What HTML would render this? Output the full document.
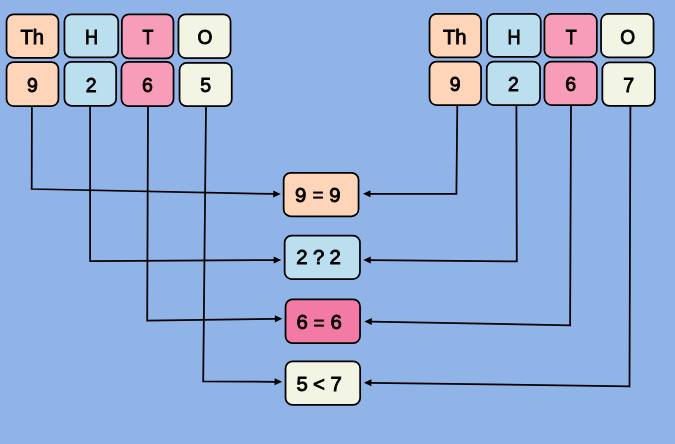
<!DOCTYPE html>
<html><head><meta charset="utf-8"><title>Place value comparison</title>
<style>
html,body{margin:0;padding:0;background:#90b3e8;}
body{width:675px;height:444px;overflow:hidden;}
svg{display:block;will-change:transform;}
text{font-family:"Liberation Sans",sans-serif;font-size:21.4px;font-weight:700;fill:#000;stroke:none;stroke-width:0px;stroke-linejoin:round;text-anchor:middle;}
.dg{font-size:21.0px;font-weight:400;stroke:#000;stroke-width:0.9px;stroke-linejoin:miter;}
.lt{font-size:20.8px;font-weight:400;stroke:#000;stroke-width:0.9px;stroke-linejoin:miter;}
.op{font-size:20.4px;font-weight:400;stroke:#000;stroke-width:0.45px;}
.ln{fill:none;stroke:#000;stroke-width:1.75;stroke-linejoin:miter;}
.bx{stroke:#000;stroke-width:1.75;}
</style></head><body>
<svg width="675" height="444" viewBox="0 0 675 444">
<rect x="0" y="0" width="675" height="444" fill="#90b3e8"/>
<polyline class="ln" points="31.9,106 31.7,189.0 274.20,193.97"/>
<polygon fill="#000" points="280.70,194.10 273.13,197.45 273.27,190.45"/>
<polyline class="ln" points="90.1,106 90.1,261.1 274.70,260.04"/>
<polygon fill="#000" points="281.20,260.00 273.72,263.54 273.68,256.54"/>
<polyline class="ln" points="148,106 147.2,320.5 275.90,318.79"/>
<polygon fill="#000" points="282.40,318.70 274.95,322.30 274.85,315.30"/>
<polyline class="ln" points="206,106.5 203.2,381.4 275.60,381.77"/>
<polygon fill="#000" points="282.10,381.80 274.58,385.26 274.62,378.26"/>
<polyline class="ln" points="457.3,105 456.4,193.8 369.50,193.80"/>
<polygon fill="#000" points="363.00,193.80 370.50,190.30 370.50,197.30"/>
<polyline class="ln" points="516.4,105 516.8,261.4 369.80,260.06"/>
<polygon fill="#000" points="363.30,260.00 370.83,256.57 370.77,263.57"/>
<polyline class="ln" points="571,105 570.1,325.4 370.80,321.53"/>
<polygon fill="#000" points="364.30,321.40 371.87,318.05 371.73,325.05"/>
<polyline class="ln" points="630.4,106 629.5,386.3 370.40,382.79"/>
<polygon fill="#000" points="363.90,382.70 371.45,379.30 371.35,386.30"/>
<rect class="bx" x="6.55" y="14.25" width="51.90" height="43.50" rx="7" ry="7" fill="#fed5b8"/>
<text class="lt" transform="translate(32.30,43.90) scale(0.97,1)" x="0" y="0">Th</text>
<rect class="bx" x="64.45" y="14.25" width="53.80" height="43.20" rx="7" ry="7" fill="#bbdfef"/>
<text class="lt" transform="translate(91.60,43.90) scale(0.87,1)" x="0" y="0">H</text>
<rect class="bx" x="121.85" y="14.25" width="51.60" height="44.10" rx="7" ry="7" fill="#f79cb9"/>
<text class="lt" transform="translate(147.90,43.90) scale(0.86,1)" x="0" y="0">T</text>
<rect class="bx" x="178.45" y="14.25" width="52.10" height="43.80" rx="7" ry="7" fill="#f2f5e3"/>
<text class="lt" transform="translate(205.00,43.90) scale(0.92,1)" x="0" y="0">O</text>
<rect class="bx" x="6.55" y="62.15" width="51.90" height="43.90" rx="7" ry="7" fill="#fed5b8"/>
<text class="dg" transform="translate(32.50,91.65) scale(0.93,1)" x="0" y="0">9</text>
<rect class="bx" x="64.45" y="61.75" width="51.70" height="44.00" rx="7" ry="7" fill="#bbdfef"/>
<text class="dg" transform="translate(91.10,91.65) scale(0.93,1)" x="0" y="0">2</text>
<rect class="bx" x="121.45" y="61.95" width="52.10" height="44.10" rx="7" ry="7" fill="#f79cb9"/>
<text class="dg" transform="translate(147.50,91.65) scale(0.93,1)" x="0" y="0">6</text>
<rect class="bx" x="179.55" y="62.95" width="52.20" height="43.20" rx="7" ry="7" fill="#f2f5e3"/>
<text class="dg" transform="translate(205.65,91.65) scale(0.93,1)" x="0" y="0">5</text>
<rect class="bx" x="429.55" y="13.95" width="51.50" height="43.30" rx="7" ry="7" fill="#fed5b8"/>
<text class="lt" transform="translate(454.80,43.50) scale(0.97,1)" x="0" y="0">Th</text>
<rect class="bx" x="487.15" y="13.95" width="53.60" height="43.00" rx="7" ry="7" fill="#bbdfef"/>
<text class="lt" transform="translate(513.95,43.50) scale(0.87,1)" x="0" y="0">H</text>
<rect class="bx" x="544.45" y="13.95" width="52.40" height="43.30" rx="7" ry="7" fill="#f79cb9"/>
<text class="lt" transform="translate(571.20,43.50) scale(0.86,1)" x="0" y="0">T</text>
<rect class="bx" x="601.05" y="13.95" width="52.50" height="43.30" rx="7" ry="7" fill="#f2f5e3"/>
<text class="lt" transform="translate(627.70,43.50) scale(0.92,1)" x="0" y="0">O</text>
<rect class="bx" x="429.55" y="61.65" width="51.50" height="43.40" rx="7" ry="7" fill="#fed5b8"/>
<text class="dg" transform="translate(455.30,91.05) scale(0.93,1)" x="0" y="0">9</text>
<rect class="bx" x="486.75" y="61.65" width="53.30" height="43.40" rx="7" ry="7" fill="#bbdfef"/>
<text class="dg" transform="translate(513.40,91.05) scale(0.93,1)" x="0" y="0">2</text>
<rect class="bx" x="544.45" y="61.65" width="52.40" height="43.40" rx="7" ry="7" fill="#f79cb9"/>
<text class="dg" transform="translate(570.65,91.05) scale(0.93,1)" x="0" y="0">6</text>
<rect class="bx" x="602.35" y="62.45" width="52.50" height="43.50" rx="7" ry="7" fill="#f2f5e3"/>
<text class="dg" transform="translate(628.60,92.05) scale(0.93,1)" x="0" y="0">7</text>
<rect class="bx" x="283.65" y="172.75" width="74.90" height="43.50" rx="7" ry="7" fill="#fed5b8"/>
<text class="dg" transform="scale(0.97,1)" x="310.00 318.97 327.94 336.65 345.36" y="201.95" xml:space="preserve">9 <tspan class="op">=</tspan> 9</text>
<rect class="bx" x="284.65" y="235.55" width="75.30" height="43.50" rx="7" ry="7" fill="#bbdfef"/>
<text class="dg" transform="scale(0.97,1)" x="311.34 319.95 328.56 337.06 345.57" y="264.35" xml:space="preserve">2 ? 2</text>
<rect class="bx" x="285.55" y="299.25" width="74.50" height="43.90" rx="7" ry="7" fill="#f37aa5"/>
<text class="dg" transform="scale(0.97,1)" x="311.44 320.15 328.87 337.68 346.49" y="329.15 329.15 330.15 329.15 329.15" xml:space="preserve">6 <tspan class="op">=</tspan> 6</text>
<rect class="bx" x="285.55" y="361.35" width="74.60" height="43.60" rx="7" ry="7" fill="#f2f5e3"/>
<text class="dg" transform="scale(0.97,1)" x="311.55 320.21 328.87 337.68 346.49" y="390.70" xml:space="preserve">5 &lt; 7</text>
</svg></body></html>
